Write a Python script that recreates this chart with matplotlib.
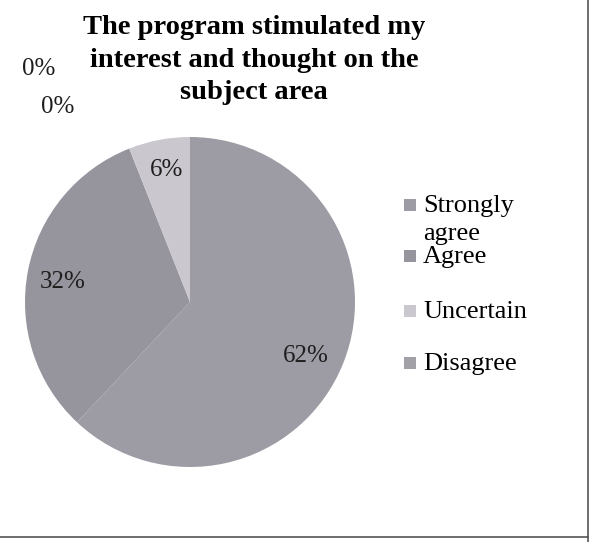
import numpy as np
import matplotlib.pyplot as plt

title = "The program stimulated my\ninterest and thought on the\nsubject area"
categories = ["Strongly\nagree", "Agree", "Uncertain", "Disagree", "Strongly disagree"]
values = [62, 32, 6, 0, 0]
pct_labels = ["62%", "32%", "6%", "0%", "0%"]
colors = ["#9d9ba3", "#96949c", "#cac8ce", "#a3a1a8", "#8f8d95"]

# label spots in pie units (radius = 1)
label_xy = [(0.70, -0.33), (-0.77, 0.12), (-0.14, 0.80), (-0.92, 1.41), (-0.80, 1.18)]
# legend rows, pixel y of each text baseline
legend_y = [212, 263, 318, 370]

W, H = 592, 542
plt.rcParams['font.family'] = ['Liberation Serif', 'DejaVu Serif']

fig = plt.figure(figsize=(W / 100, H / 100), dpi=100)

# overlay axes in pixel units for legend + page border
lax = fig.add_axes([0, 0, 1, 1])
lax.set_xlim(0, W)
lax.set_ylim(H, 0)
lax.axis('off')

cx, cy, r = 190, 302, 165
ax = fig.add_axes([(cx - r) / W, 1 - (cy + r) / H, 2 * r / W, 2 * r / H])
wedges, _ = ax.pie(values, colors=colors, startangle=90, counterclock=False,
                   radius=1, wedgeprops=dict(linewidth=0))
ax.set_xlim(-1, 1)
ax.set_ylim(-1, 1)
ax.set_aspect('equal')

for lab, (x, y) in zip(pct_labels, label_xy):
    ax.text(x, y, lab, ha='center', va='center', fontsize=18, color='#1e1e1e',
            clip_on=False)

lax.text(254, 15, title, ha='center', va='top', fontsize=20.5,
         fontweight='bold', linespacing=1.4)

for lab, col, yb in zip(categories[:4], colors[:4], legend_y):
    lax.scatter([410], [yb - 7], marker='s', s=70, color=col, linewidths=0)
    first, *rest = lab.split("\n")
    lax.text(423, yb, first, ha='left', va='baseline', fontsize=19)
    for k, line in enumerate(rest):
        lax.text(423, yb + 28 * (k + 1), line, ha='left', va='baseline', fontsize=19)

# scanned page border
lax.plot([588, 588], [0, H], color='#555555', lw=1.2)
lax.plot([0, 588], [537, 537], color='#555555', lw=1.2)

plt.savefig("out.png", dpi=100)
